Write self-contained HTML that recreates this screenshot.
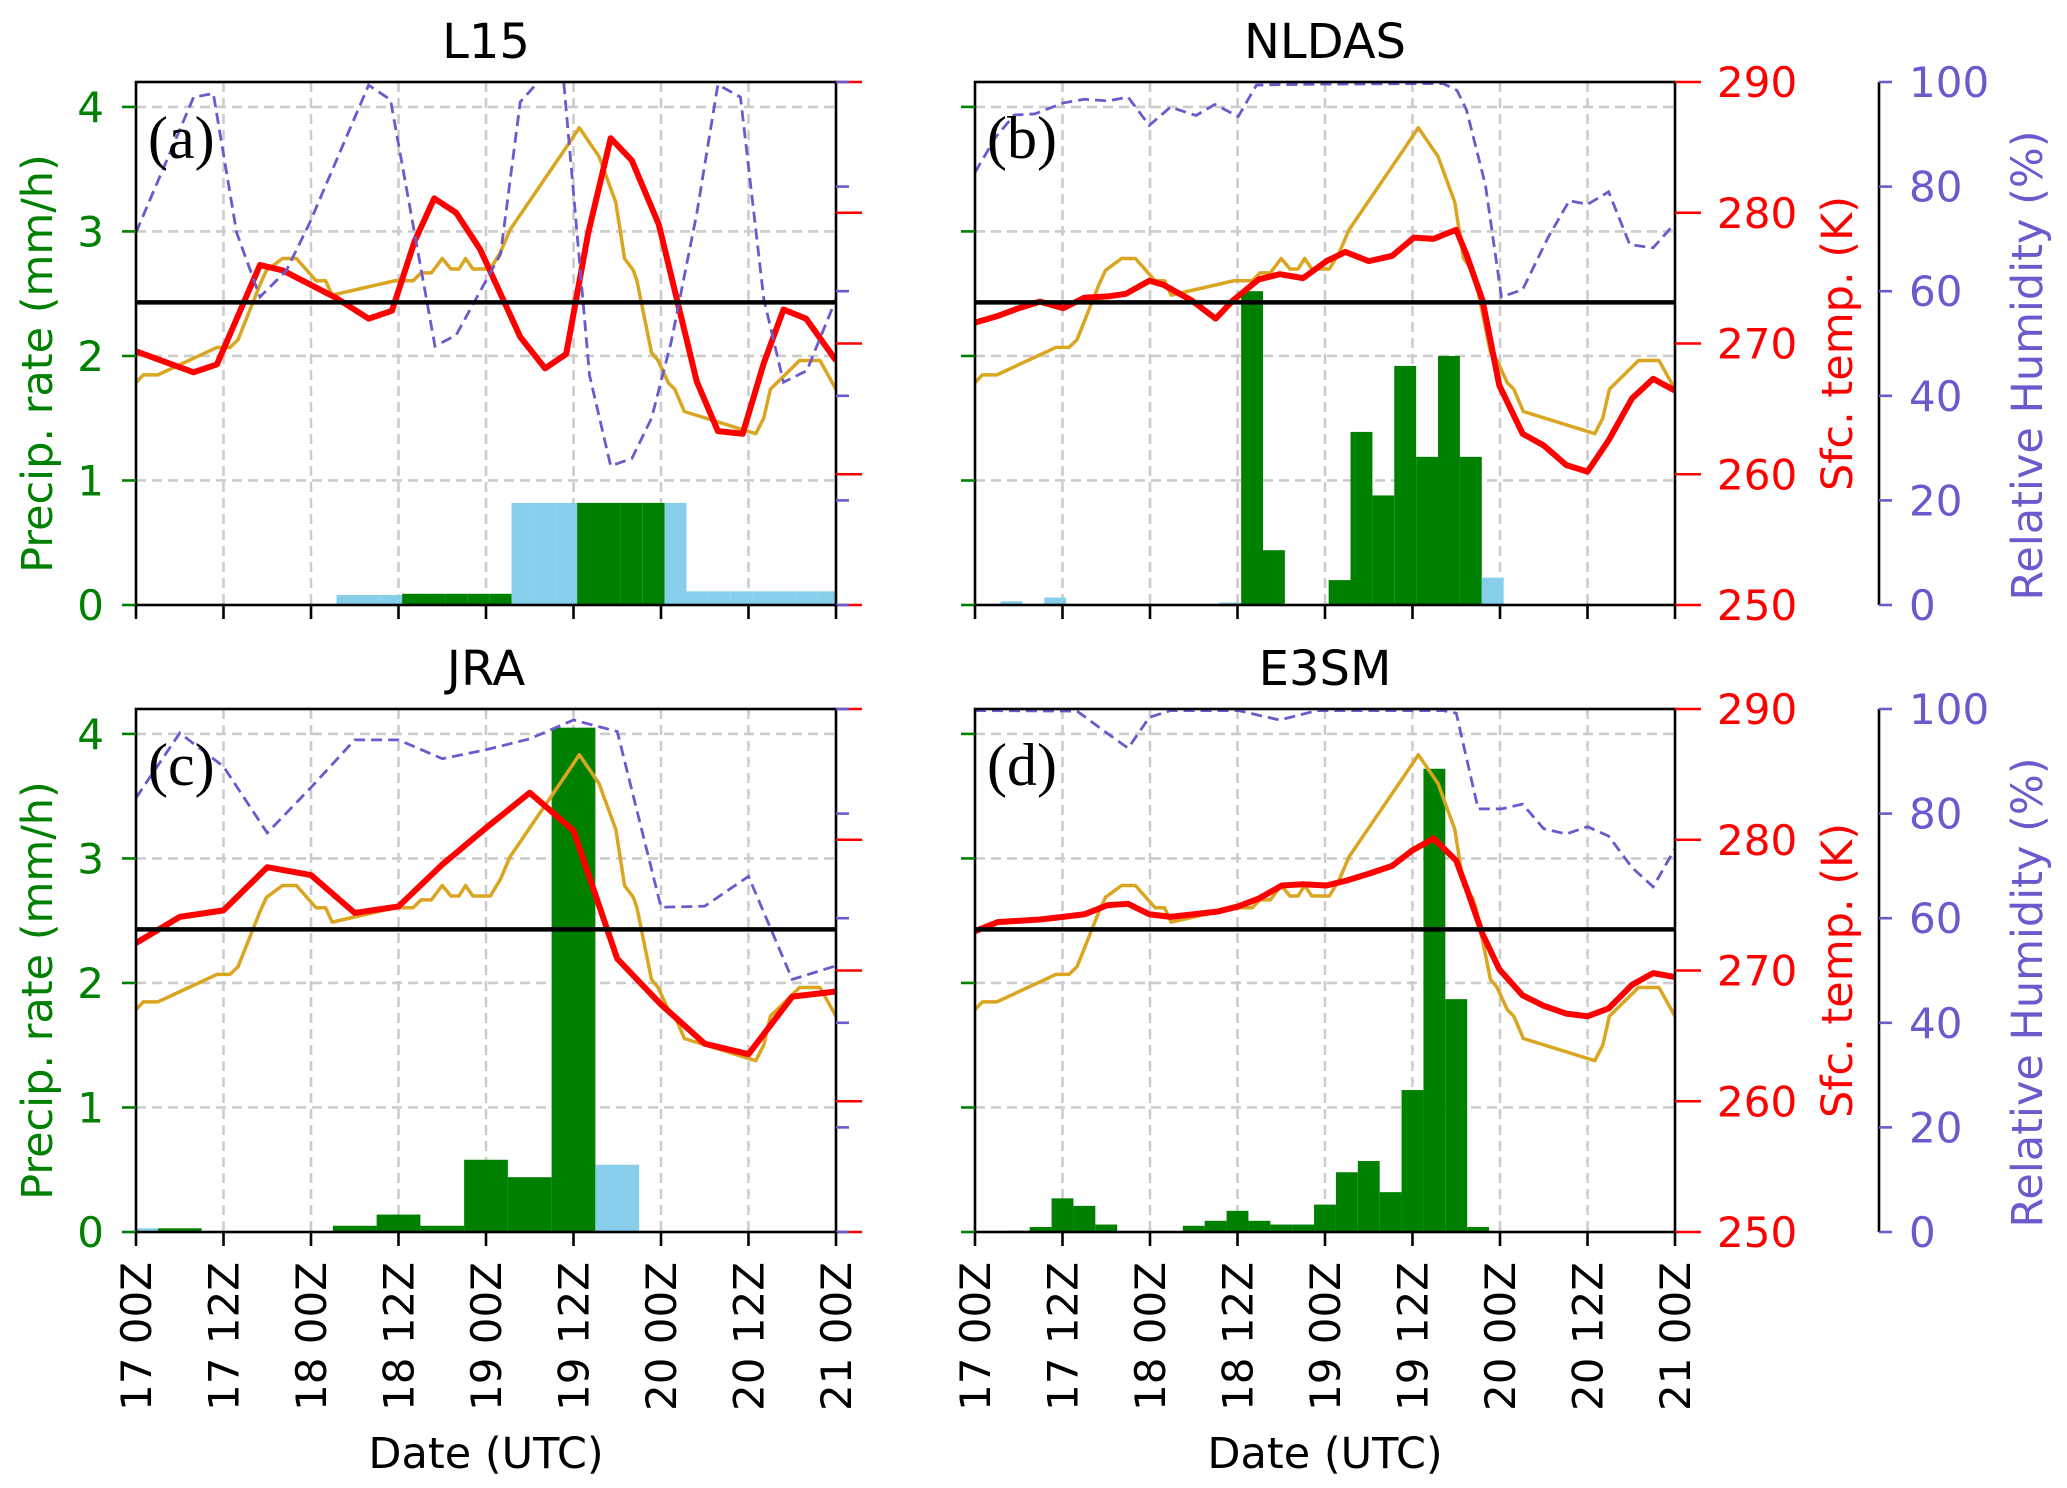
<!DOCTYPE html>
<html><head><meta charset="utf-8"><style>
html,body{margin:0;padding:0;background:#fff;}
svg{display:block;font-family:"DejaVu Sans","Liberation Sans",sans-serif;}
</style></head><body>
<svg id="chart" width="2067" height="1488" viewBox="0 0 2067 1488" xmlns="http://www.w3.org/2000/svg"></svg>
<script>
// ---------- DATA ----------
const xTickLabels = ["17 00Z","17 12Z","18 00Z","18 12Z","19 00Z","19 12Z","20 00Z","20 12Z","21 00Z"];
const precipTicks = [0,1,2,3,4];
const tempTicks = [250,260,270,280,290];
const rhTicks = [0,20,40,60,80,100];
const freezingK = 273.15;

// observed temperature (goldenrod), same in all panels
const obsHours = [0,1,3,11.1,12.9,14,17,17.9,20.1,22,24.7,26,26.9,35.5,38,39.1,40.5,42,43.2,44.3,45.2,46.2,48.6,50,51.3,59,60.8,63.5,65.8,67,68.2,68.7,70.7,71.6,73,73.9,75.2,85,86.1,87,91,93.8,96];
const obsTemp = [267.0,267.6,267.6,269.7,269.7,270.3,274.5,275.6,276.5,276.5,274.8,274.8,273.7,274.8,274.8,275.4,275.4,276.5,275.7,275.7,276.5,275.7,275.7,277.0,278.7,285.0,286.5,284.3,280.8,276.5,275.6,274.8,269.3,268.7,267.0,266.5,264.8,263.1,264.3,266.5,268.7,268.7,266.5];

// (a) L15
const tempHoursA = [0,7.9,11.1,17,20.1,27.4,31.9,35.1,38.2,40.9,43.9,47.2,52.7,56.1,59,62,65.1,68,71.7,76.9,79.8,83.2,86.1,88.8,91.9,96];
const tempA = [269.4,267.8,268.4,276.0,275.6,273.5,271.9,272.5,277.8,281.1,280.0,277.2,270.5,268.1,269.2,278.4,285.7,284.0,279.1,267.1,263.3,263.1,268.5,272.6,271.9,268.7];
const rhHoursA = [0,7.9,10.6,13.8,17,20.6,23.8,31.9,34.9,41,43.9,50,52.7,55.8,58.6,62.2,65.1,68,70.7,73.4,76.9,79.8,82.9,86.1,88.8,92,96];
const rhA = [71.2,97.1,97.8,71.2,58.9,63.9,73.0,99.4,96.6,49.5,51.6,67.1,96.2,101,101,43.9,26.6,28.0,35.7,50.3,74.8,99.5,97.1,58.5,42.6,44.8,58.5];
const precipA = [0,0,0,0,0,0,0,0,0,0.08,0.08,0.08,0.09,0.09,0.09,0.09,0.09,0.82,0.82,0.82,0.82,0.82,0.82,0.82,0.82,0.11,0.11,0.11,0.11,0.11,0.11,0.11];
const snowA = [0,0,0,0,0,0,0,0,0,1,1,1,0,0,0,0,0,1,1,1,0,0,0,0,1,1,1,1,1,1,1,1];

// (b) NLDAS
const tempHoursB = [0,3.1,6,8.9,12.1,15,18.2,20.7,23.9,25.8,29.7,33,35.4,38.9,41.8,45,48.2,50.8,54,57.2,60.2,62.9,66,67.4,69.6,71.9,75.1,78,81.1,84,86.9,90.1,93,96];
const tempB = [271.6,272.1,272.7,273.2,272.7,273.5,273.6,273.8,274.8,274.5,273.3,271.9,273.3,274.9,275.3,275.0,276.3,277.0,276.3,276.7,278.1,278.0,278.7,276.8,273.3,266.8,263.1,262.2,260.7,260.2,262.6,265.8,267.3,266.4];
const rhHoursB = [0,2.8,5.4,8.2,12.1,15,18.2,21,23.9,26.8,30.3,32.9,36.1,38.6,41.8,48.2,64.2,66.1,67.4,70,72.2,75.1,78.6,81.5,84,86.9,89.8,93,96];
const rhB = [82.7,89.4,93.7,93.9,96.0,96.7,96.4,97.1,91.7,95.2,93.6,95.7,93.4,99.4,99.5,99.6,99.7,98.4,94.7,80.3,58.9,60.3,70.3,77.3,76.6,79.0,68.9,68.3,73.0];
const precipB = [0,0.03,0,0.06,0,0,0,0,0,0,0,0.02,2.52,0.44,0,0,0.2,1.39,0.88,1.92,1.19,2.0,1.19,0.22,0,0,0,0,0,0,0,0];
const snowB = [0,1,0,1,0,0,0,0,0,0,0,1,0,0,0,0,0,0,0,0,0,0,0,1,0,0,0,0,0,0,0,0];

// (c) JRA
const tempHoursC = [0,6,12,18,24,30,36,42,48,54,60,66,72,78,84,90,96];
const tempC = [272.1,274.1,274.6,277.9,277.3,274.4,274.9,278.1,280.9,283.6,280.7,270.9,267.4,264.4,263.6,268.0,268.4];
const rhHoursC = [0,6,12,18,24,30,36,42,48,54,60,66,72,78,84,90,96];
const rhC = [83.0,95.4,89.0,76.3,85.0,94.1,94.1,90.5,92.2,94.3,97.9,95.7,62.1,62.3,68.0,48.3,50.9];
const precipC = [0.03,0.03,0,0,0,0.05,0.14,0.05,0.58,0.44,4.05,0.54,0,0,0,0,0];
const snowC = [1,0,0,0,0,0,0,0,0,0,0,1,0,0,0,0,0];

// (d) E3SM
const tempHoursD = [0,3.1,8.9,12.1,15,18.2,21,23.9,26.8,30,33.2,36.1,38.9,42.1,45,48.2,51.1,54,57.2,60,62.9,66,67.4,69.6,71.9,75.1,78,81.1,84,86.9,90.1,93,96];
const tempD = [273.0,273.7,273.9,274.1,274.3,275.0,275.1,274.3,274.1,274.3,274.5,274.9,275.5,276.5,276.6,276.5,276.9,277.4,278.0,279.2,280.1,278.4,276.3,272.8,270.1,268.1,267.3,266.7,266.5,267.1,268.9,269.8,269.5];
const rhHoursD = [0,14,17.8,21,23.9,26.8,36.1,41.8,46.9,64.2,66,69,72.2,75.1,78,81.1,84,86.9,90.1,93,96];
const rhD = [99.7,99.6,95.7,92.5,98.4,99.7,99.7,97.9,99.7,99.7,99.2,80.9,80.9,81.8,77.1,76.1,77.5,75.7,69.7,66.0,73.3];
const precipD = [0,0.01,0.04,0.27,0.21,0.06,0.005,0,0.005,0.05,0.09,0.17,0.09,0.06,0.06,0.22,0.48,0.57,0.32,1.14,3.72,1.87,0.04,0,0,0,0,0,0,0,0,0];
const snowD = [0,0,0,0,0,0,0,0,0,0,0,0,0,0,0,0,0,0,0,0,0,0,0,0,0,0,0,0,0,0,0,0];

// ---------- DRAWING ----------
const NS = "http://www.w3.org/2000/svg";
const svg = document.getElementById("chart");
const W = 700, H = 523;
const TF = 42, AF = 43;
const panels = [
  {id:"a", title:"L15", x0:136, y0:82, tH:tempHoursA, t:tempA, rH:rhHoursA, r:rhA, p:precipA, s:snowA, binW:3, binOff:0.5, leftLab:true, rightLab:false, xLab:false},
  {id:"b", title:"NLDAS", x0:975, y0:82, tH:tempHoursB, t:tempB, rH:rhHoursB, r:rhB, p:precipB, s:snowB, binW:3, binOff:0.5, leftLab:false, rightLab:true, xLab:false},
  {id:"c", title:"JRA", x0:136, y0:709, tH:tempHoursC, t:tempC, rH:rhHoursC, r:rhC, p:precipC, s:snowC, binW:6, binOff:-3, leftLab:true, rightLab:false, xLab:true},
  {id:"d", title:"E3SM", x0:975, y0:709, tH:tempHoursD, t:tempD, rH:rhHoursD, r:rhD, p:precipD, s:snowD, binW:3, binOff:1.5, leftLab:false, rightLab:true, xLab:true}
];
function mk(tag, attrs, parent){
  const e = document.createElementNS(NS, tag);
  for (const k in attrs) e.setAttribute(k, attrs[k]);
  (parent||svg).appendChild(e);
  return e;
}
panels.forEach(P=>{
  const xS = h => P.x0 + h/96*W;
  const y1 = P.y0 + H;
  const yP = v => y1 - v/4.2*H;
  const yT = t => y1 - (t-250)/40*H;
  const yR = r => y1 - r/100*H;
  const g = mk("g", {});
  
  
  const cp = mk("clipPath", {id:"clip"+P.id}, g);
  mk("rect", {x:P.x0, y:P.y0, width:W, height:H}, cp);
  for (let i=1;i<8;i++){
    const l = mk("line", {x1:xS(i*12), x2:xS(i*12), y1:P.y0, y2:y1, stroke:"#cccccc", "stroke-width":2.6, "stroke-dasharray":"10,6"}, g);
    
    
  }
  precipTicks.forEach(v=>{
    if (v===0) return;
    const l = mk("line", {x1:P.x0, x2:P.x0+W, y1:yP(v), y2:yP(v), stroke:"#cccccc", "stroke-width":2.6, "stroke-dasharray":"10,6"}, g);
    
    
  });
  const bg = mk("g", {"clip-path":"url(#clip"+P.id+")"}, g);
  P.p.forEach((v,i)=>{
    if (v<=0) return;
    const h0 = P.binOff + i*P.binW;
    const r = mk("rect", {x:xS(h0), y:yP(v), width:xS(h0+P.binW)-xS(h0), height:y1-yP(v), fill: P.s[i] ? "#87ceeb" : "#008000"}, bg);
    
    
  });
  const lg = mk("g", {"clip-path":"url(#clip"+P.id+")"}, g);
  const obs = mk("polyline", {points: obsHours.map((h,i)=>xS(h)+","+yT(obsTemp[i])).join(" "), fill:"none", stroke:"#daa520", "stroke-width":3.5, "stroke-linejoin":"round"}, lg);
  
  
  const red = mk("polyline", {points: P.tH.map((h,i)=>xS(h)+","+yT(P.t[i])).join(" "), fill:"none", stroke:"#ff0000", "stroke-width":6, "stroke-linejoin":"round"}, lg);
  
  
  const rh = mk("polyline", {points: P.rH.map((h,i)=>xS(h)+","+yR(P.r[i])).join(" "), fill:"none", stroke:"#6a5acd", "stroke-width":2.8, "stroke-dasharray":"11,6"}, lg);
  
  
  const fr = mk("line", {x1:P.x0, x2:P.x0+W, y1:yT(freezingK), y2:yT(freezingK), stroke:"#000", "stroke-width":4.5}, lg);
  
  
  const fm = mk("rect", {x:P.x0, y:P.y0, width:W, height:H, fill:"none", stroke:"#000", "stroke-width":2.6}, g);
  
  
  precipTicks.forEach(v=>{
    mk("line", {x1:P.x0-14, x2:P.x0, y1:yP(v), y2:yP(v), stroke:"#008000", "stroke-width":2.6}, g);
    if (P.leftLab){
      const t = mk("text", {x:P.x0-32, y:yP(v)+15, "text-anchor":"end", fill:"#008000", "font-size":TF}, g);
      t.textContent = v;
      
      
    }
  });
  tempTicks.forEach(v=>{
    mk("line", {x1:P.x0+W, x2:P.x0+W+26, y1:yT(v), y2:yT(v), stroke:"#ff0000", "stroke-width":2.6}, g);
    if (P.rightLab){
      const t = mk("text", {x:P.x0+W+42, y:yT(v)+15, fill:"#ff0000", "font-size":TF}, g);
      t.textContent = v;
      
      
    }
  });
  if (P.rightLab){
    const sx = 1879;
    mk("line", {x1:sx, x2:sx, y1:P.y0, y2:y1, stroke:"#000", "stroke-width":2.6}, g);
    rhTicks.forEach(v=>{
      mk("line", {x1:sx, x2:sx+13, y1:yR(v), y2:yR(v), stroke:"#6a5acd", "stroke-width":2.6}, g);
      const t = mk("text", {x:sx+30, y:yR(v)+15, fill:"#6a5acd", "font-size":TF}, g);
      t.textContent = v;
      
      
    });
    const st = mk("text", {x:0, y:0, transform:"translate(1852,"+(P.y0+H/2)+") rotate(-90)", "text-anchor":"middle", fill:"#ff0000", "font-size":AF}, g);
    st.textContent = "Sfc. temp. (K)";
    
    
    const rt = mk("text", {x:0, y:0, transform:"translate(2042,"+(P.y0+H/2+22)+") rotate(-90)", "text-anchor":"middle", fill:"#6a5acd", "font-size":AF}, g);
    rt.textContent = "Relative Humidity (%)";
    
    
  } else {
    rhTicks.forEach(v=>{
      mk("line", {x1:P.x0+W, x2:P.x0+W+13, y1:yR(v), y2:yR(v), stroke:"#6a5acd", "stroke-width":2.6}, g);
    });
  }
  if (P.leftLab){
    const pt = mk("text", {x:0, y:0, transform:"translate(52,"+(P.y0+H/2+20)+") rotate(-90)", "text-anchor":"middle", fill:"#008000", "font-size":AF}, g);
    pt.textContent = "Precip. rate (mm/h)";
    
    
  }
  xTickLabels.forEach((lab,i)=>{
    const x = xS(i*12);
    mk("line", {x1:x, x2:x, y1:y1, y2:y1+14, stroke:"#000", "stroke-width":2.6}, g);
    if (P.xLab){
      const t = mk("text", {x:0, y:0, transform:"translate("+(x+15)+","+(y1+30)+") rotate(-90)", "text-anchor":"end", fill:"#000", "font-size":TF}, g);
      t.textContent = lab;
      
      
    }
  });
  if (P.xLab){
    const xt = mk("text", {x:P.x0+W/2, y:1468, "text-anchor":"middle", fill:"#000", "font-size":AF}, g);
    xt.textContent = "Date (UTC)";
    
    
  }
  const tt = mk("text", {x:P.x0+W/2, y:P.y0-24, "text-anchor":"middle", fill:"#000", "font-size":48}, g);
  tt.textContent = P.title;
  
  
  const pl = mk("text", {x:P.x0+12, y:P.y0+76, fill:"#000", "font-size":60, "font-family":"Liberation Serif, serif"}, g);
  pl.textContent = "(" + P.id + ")";
  
  
});
</script>
</body></html>
